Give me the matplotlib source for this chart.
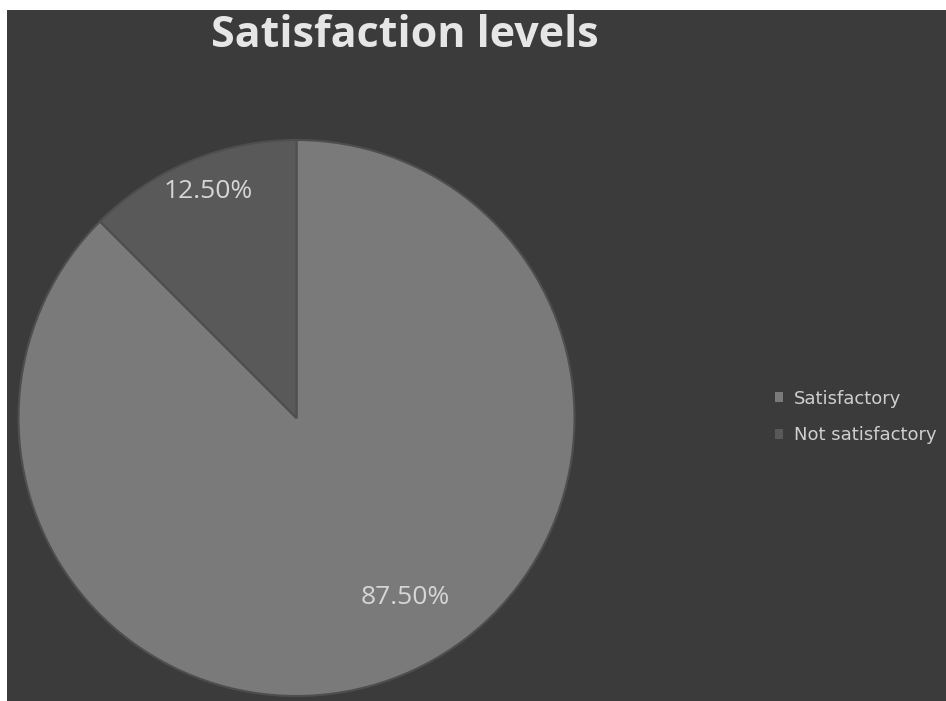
import matplotlib
matplotlib.use("Agg")
import matplotlib.pyplot as plt
from matplotlib.patches import Rectangle

categories = ["Satisfactory", "Not satisfactory"]
values = [87.5, 12.5]
pct_labels = ["87.50%", "12.50%"]
colors = ["#7a7a7a", "#595959"]

W, H = 946, 701
fig = plt.figure(figsize=(W / 100, H / 100), dpi=100, facecolor="white")
ax = fig.add_axes([0, 0, 1, 1])

# dark background panel
ax.add_patch(Rectangle((7, 0), W - 7, H - 10, facecolor="#3b3b3b", edgecolor="none", zorder=0))

cx, cy, r = 296.5, H - 418, 278
wedges, texts = ax.pie(values, colors=colors, startangle=90, counterclock=False,
                       center=(cx, cy), radius=r,
                       wedgeprops=dict(edgecolor="#4e4e4e", linewidth=1.5),
                       frame=True)
for w in wedges:
    w.set_zorder(2)

# percentage labels
label_pos = [(405, H - 597), (208, H - 192)]
for (x, y), t in zip(label_pos, pct_labels):
    ax.text(x, y, t, ha="center", va="center", color="#d6d6d6", fontsize=19,
            family="Open Sans", zorder=3)

ax.text(405, H - 47, "Satisfaction levels", ha="center", va="baseline", color="#e6e6e6",
        fontsize=31, fontweight="bold", family="Open Sans", zorder=3)

leg = ax.legend(wedges, categories, loc="center left", bbox_to_anchor=(766 / W, 1 - 417 / H),
                frameon=False, fontsize=13, handlelength=0.45, handleheight=0.45,
                handletextpad=0.6, labelspacing=1.05, borderpad=0)
for t in leg.get_texts():
    t.set_color("#cfcfcf")
for h in leg.legend_handles:
    h.set_edgecolor("none")

ax.set_xlim(0, W)
ax.set_ylim(0, H)
ax.set_aspect("equal")
ax.axis("off")

fig.savefig("out.png", dpi=100, facecolor="white")
